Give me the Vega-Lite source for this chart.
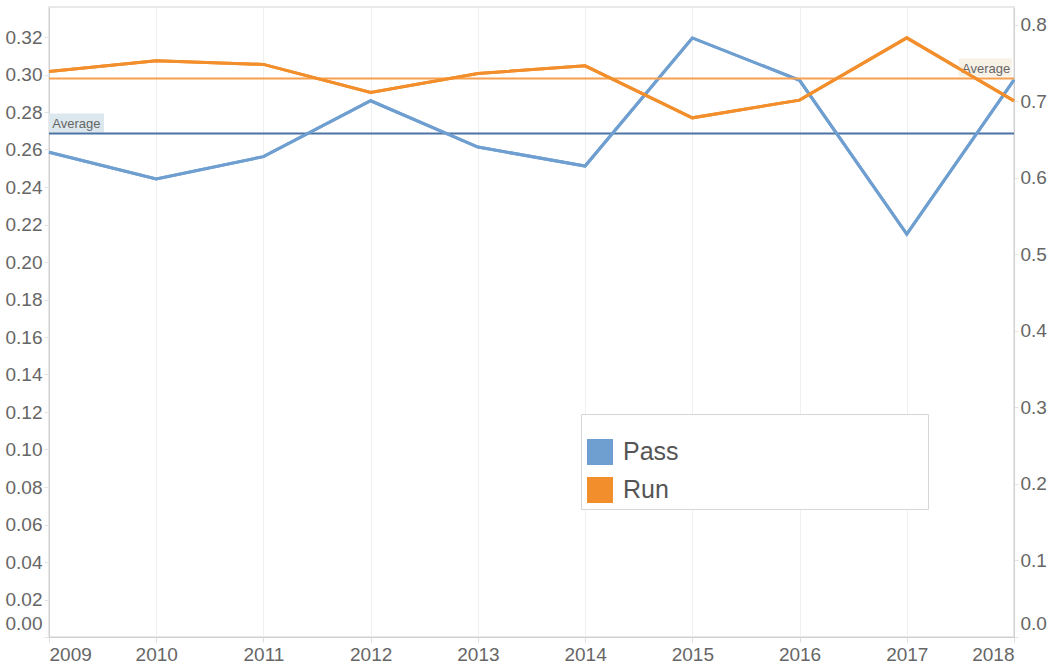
{
  "$schema": "https://vega.github.io/schema/vega-lite/v6.json",
  "width": 965,
  "height": 630,
  "autosize": {"type": "none"},
  "padding": {"left": 49, "top": 7, "right": 49, "bottom": 27},
  "background": "white",
  "config": {
    "view": {"stroke": "#e2e2e2", "strokeWidth": 1.5},
    "font": "Liberation Sans",
    "axis": {"labelFont": "Liberation Sans", "labelFontSize": 19, "labelColor": "#666666", "labelOverlap": false, "title": null}
  },
  "data": {
    "values": [
      {"year": 2009, "series": "Pass", "value": 0.2585},
      {"year": 2010, "series": "Pass", "value": 0.2443},
      {"year": 2011, "series": "Pass", "value": 0.2562},
      {"year": 2012, "series": "Pass", "value": 0.2860},
      {"year": 2013, "series": "Pass", "value": 0.2613},
      {"year": 2014, "series": "Pass", "value": 0.2512},
      {"year": 2015, "series": "Pass", "value": 0.3195},
      {"year": 2016, "series": "Pass", "value": 0.2969},
      {"year": 2017, "series": "Pass", "value": 0.2149},
      {"year": 2018, "series": "Pass", "value": 0.2971},
      {"year": 2009, "series": "Run", "value": 0.7388},
      {"year": 2010, "series": "Run", "value": 0.7527},
      {"year": 2011, "series": "Run", "value": 0.7480},
      {"year": 2012, "series": "Run", "value": 0.7114},
      {"year": 2013, "series": "Run", "value": 0.7362},
      {"year": 2014, "series": "Run", "value": 0.7461},
      {"year": 2015, "series": "Run", "value": 0.6782},
      {"year": 2016, "series": "Run", "value": 0.7013},
      {"year": 2017, "series": "Run", "value": 0.7827},
      {"year": 2018, "series": "Run", "value": 0.7004}
    ]
  },
  "layer": [
    {
      "transform": [{"filter": "datum.series === 'Pass'"}],
      "layer": [
        {
          "mark": {"type": "line", "strokeWidth": 3},
          "encoding": {
            "x": {
              "field": "year", "type": "quantitative",
              "scale": {"domain": [2009, 2018], "nice": false, "zero": false},
              "axis": {"values": [2009, 2010, 2011, 2012, 2013, 2014, 2015, 2016, 2017, 2018], "tickCount": 20, "format": "d", "labelFlush": true, "labelOverlap": false, "grid": true, "gridColor": "#efefef", "domainColor": "#cfcfcf", "tickColor": "#dddddd", "tickSize": 5, "labelPadding": 3}
            },
            "y": {
              "field": "value", "type": "quantitative",
              "scale": {"domain": [0, 0.336], "nice": false, "zero": true},
              "axis": {"orient": "left", "values": [0, 0.02, 0.04, 0.06, 0.08, 0.1, 0.12, 0.14, 0.16, 0.18, 0.2, 0.22, 0.24, 0.26, 0.28, 0.3, 0.32], "tickCount": 30, "format": ".2f", "grid": false, "labelFlush": true, "labelFlushOffset": -4, "labelOverlap": false, "tickColor": "#e3e3e3", "tickSize": 5, "labelPadding": 2, "domainColor": "#d0d0d0"}
            },
            "color": {
              "field": "series", "type": "nominal",
              "scale": {"domain": ["Pass", "Run"], "range": ["#6f9fd0", "#f28e2b"]},
              "legend": {
                "orient": "none", "legendX": 532, "legendY": 407,
                "title": "\u200b\u00a0\u00a0\u00a0\u00a0\u00a0\u00a0\u00a0\u00a0\u00a0\u00a0\u00a0\u00a0\u00a0\u00a0\u00a0\u00a0\u00a0\u00a0\u00a0\u00a0\u00a0\u00a0\u00a0\u00a0\u00a0\u00a0\u00a0\u00a0\u00a0\u00a0\u00a0\u00a0\u00a0\u00a0\u00a0\u00a0\u00a0\u00a0\u00a0\u00a0\u00a0\u00a0\u00a0\u00a0\u00a0\u00a0\u00a0\u00a0\u00a0\u00a0\u00a0\u00a0\u00a0\u00a0\u00a0\u00a0\u00a0\u00a0\u00a0\u00a0\u00a0\u00a0\u00a0\u00a0\u00a0\u00a0\u00a0\u00a0\u00a0\u00a0\u00a0\u00a0\u00a0\u00a0\u00a0\u00a0\u00a0\u00a0\u00a0\u00a0\u00a0\u00a0\u00a0\u00a0\u00a0\u00a0\u200b",
                "titleFontSize": 14, "titleLimit": 1000, "titlePadding": 5,
                "padding": 6, "fillColor": "white", "strokeColor": "#d6d6d6",
                "symbolType": "square", "symbolSize": 676, "symbolStrokeWidth": 0,
                "labelFontSize": 25, "labelColor": "#555555", "labelFont": "Liberation Sans", "labelOffset": 10, "rowPadding": 12,
                "encode": {"symbols": {"update": {"fill": {"scale": "color", "field": "value"}, "fillOpacity": {"value": 1}, "strokeWidth": {"value": 0}}}}
              }
            }
          }
        },
        {
          "transform": [{"aggregate": [{"op": "mean", "field": "value", "as": "avg"}]}],
          "mark": {"type": "rect", "color": "#dce8ee", "yOffset": -1, "y2Offset": -20},
          "encoding": {
            "x": {"datum": 2009, "type": "quantitative"},
            "x2": {"datum": 2009.513},
            "y": {"field": "avg", "type": "quantitative"},
            "y2": {"field": "avg"}
          }
        },
        {
          "transform": [{"aggregate": [{"op": "mean", "field": "value", "as": "avg"}]}],
          "mark": {"type": "text", "text": "Average", "align": "left", "baseline": "alphabetic", "dy": -5, "fontSize": 13, "color": "#666666", "font": "Liberation Sans"},
          "encoding": {
            "x": {"datum": 2009.031, "type": "quantitative"},
            "y": {"field": "avg", "type": "quantitative"}
          }
        },
        {
          "mark": {"type": "rule", "color": "#4d73a3", "strokeWidth": 2},
          "encoding": {
            "y": {"aggregate": "mean", "field": "value", "type": "quantitative"}
          }
        },
        {
          "mark": {"type": "line", "strokeWidth": 3},
          "encoding": {
            "x": {"field": "year", "type": "quantitative"},
            "y": {"field": "value", "type": "quantitative"},
            "color": {"field": "series", "type": "nominal"}
          }
        }
      ]
    },
    {
      "transform": [{"filter": "datum.series === 'Run'"}],
      "layer": [
        {
          "mark": {"type": "line", "strokeWidth": 3},
          "encoding": {
            "x": {
              "field": "year", "type": "quantitative",
              "scale": {"domain": [2009, 2018], "nice": false, "zero": false},
              "axis": {"values": [2009, 2010, 2011, 2012, 2013, 2014, 2015, 2016, 2017, 2018], "tickCount": 20, "format": "d", "labelFlush": true, "labelOverlap": false, "grid": true, "gridColor": "#efefef", "domainColor": "#cfcfcf", "tickColor": "#dddddd", "tickSize": 5, "labelPadding": 3}
            },
            "y": {
              "field": "value", "type": "quantitative",
              "scale": {"domain": [0, 0.823], "nice": false, "zero": true},
              "axis": {"orient": "right", "values": [0, 0.1, 0.2, 0.3, 0.4, 0.5, 0.6, 0.7, 0.8], "tickCount": 20, "format": ".1f", "grid": false, "labelFlush": true, "labelFlushOffset": -4, "labelOverlap": false, "tickColor": "#e3e3e3", "tickSize": 4, "labelPadding": 2, "domainColor": "#d0d0d0"}
            },
            "color": {"field": "series", "type": "nominal"}
          }
        },
        {
          "transform": [{"aggregate": [{"op": "mean", "field": "value", "as": "avg"}]}],
          "mark": {"type": "rect", "color": "#f8f1e6", "yOffset": -2, "y2Offset": -20},
          "encoding": {
            "x": {"datum": 2017.484, "type": "quantitative"},
            "x2": {"datum": 2017.979},
            "y": {"field": "avg", "type": "quantitative"},
            "y2": {"field": "avg"}
          }
        },
        {
          "transform": [{"aggregate": [{"op": "mean", "field": "value", "as": "avg"}]}],
          "mark": {"type": "text", "text": "Average", "align": "right", "baseline": "alphabetic", "dy": -6, "fontSize": 13, "color": "#666666", "font": "Liberation Sans"},
          "encoding": {
            "x": {"datum": 2017.965, "type": "quantitative"},
            "y": {"field": "avg", "type": "quantitative"}
          }
        },
        {
          "mark": {"type": "rule", "color": "#f8a04f", "strokeWidth": 2},
          "encoding": {
            "y": {"aggregate": "mean", "field": "value", "type": "quantitative"}
          }
        },
        {
          "mark": {"type": "line", "strokeWidth": 3},
          "encoding": {
            "x": {"field": "year", "type": "quantitative"},
            "y": {"field": "value", "type": "quantitative"},
            "color": {"field": "series", "type": "nominal"}
          }
        }
      ]
    }
  ],
  "resolve": {"scale": {"y": "independent"}, "axis": {"y": "independent"}}
}
